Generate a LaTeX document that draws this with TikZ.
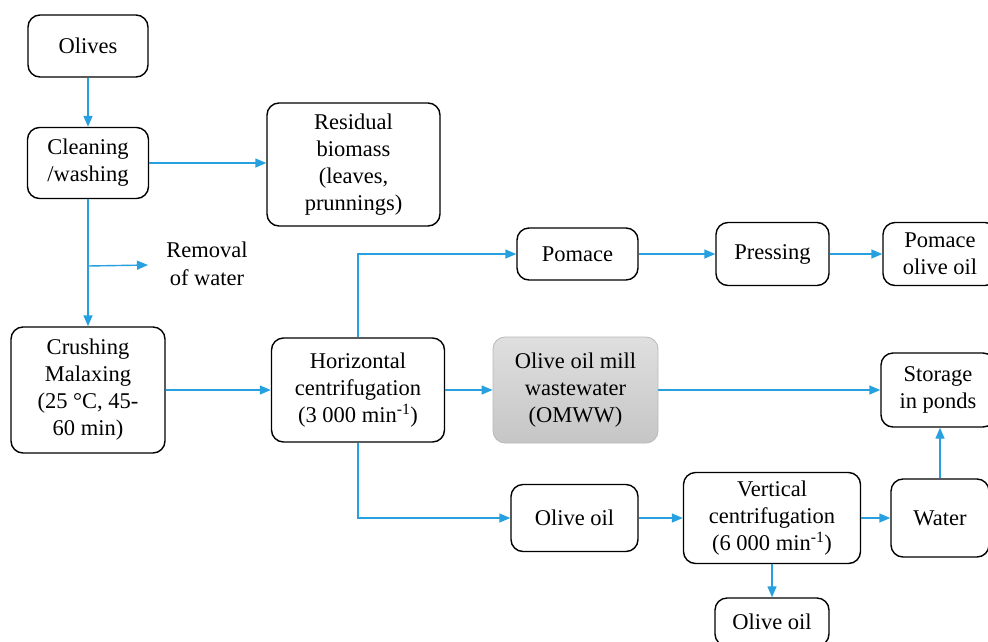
\documentclass[tikz,border=0pt]{standalone}
\usepackage{fontspec}
\setmainfont{Liberation Serif}
\usetikzlibrary{arrows.meta,calc}
\definecolor{arrblue}{RGB}{38,160,222}
\begin{document}
\begin{tikzpicture}[x=1pt,y=-1pt,
  box/.style={draw=black,line width=1.4pt,rounded corners=12pt,align=center,
    inner sep=2pt,font=\fontsize{22.5}{27}\selectfont},
  gbox/.style={box,draw=gray!55,line width=0.8pt,top color=gray!25,bottom color=gray!45},
  lbl/.style={align=center,font=\fontsize{22.5}{28}\selectfont},
  arr/.style={draw=arrblue,line width=1.4pt,-{Triangle[length=11pt,width=9pt]}}]
\useasboundingbox (0,0) rectangle (988,641);
\node[box,minimum width=120pt,minimum height=62pt] (olives) at (88,46) {Olives};
\node[box,minimum width=121pt,minimum height=71pt] (clean) at (88,163) {Cleaning\\/washing};
\node[box,minimum width=173pt,minimum height=123pt] (resid) at (353.5,164.5) {Residual\\biomass\\(leaves,\\prunnings)};
\node[lbl] (removal) at (207,264) {Removal\\of water};
\node[box,minimum width=154pt,minimum height=126pt] (crush) at (88,390) {Crushing\\Malaxing\\(25 °C, 45-\\60 min)};
\node[box,minimum width=173pt,minimum height=104pt] (horiz) at (358,390) {Horizontal\\centrifugation\\(3 000 min\textsuperscript{-1})};
\node[gbox,minimum width=165pt,minimum height=106pt] (omww) at (575.5,390) {Olive oil mill\\wastewater\\(OMWW)};
\node[box,minimum width=121pt,minimum height=52pt] (pomace) at (577.5,254) {Pomace};
\node[box,minimum width=113pt,minimum height=63pt] (press) at (772.5,254) {Pressing};
\node[box,minimum width=114pt,minimum height=63pt] (pomoil) at (940,254) {Pomace\\olive oil};
\node[box,minimum width=114pt,minimum height=74pt] (storage) at (938,390) {Storage\\in ponds};
\node[box,minimum width=127pt,minimum height=67pt] (oil1) at (574.5,518) {Olive oil};
\node[box,minimum width=177pt,minimum height=91pt] (vert) at (772,518) {Vertical\\centrifugation\\(6 000 min\textsuperscript{-1})};
\node[box,minimum width=98pt,minimum height=78pt] (water) at (940,518) {Water};
\node[box,minimum width=114pt,minimum height=48pt] (oil2) at (772,622) {Olive oil};
\coordinate (rb) at (88,266);
\coordinate (rw) at (148,265);
\draw[arr] (olives) -- (clean);
\draw[arr] (clean) -- (resid.west |- clean);
\draw[arr] (clean) -- (crush);
\draw[arr] (rb) -- (rw);
\draw[arr] (crush) -- (horiz);
\draw[arr] (horiz) -- (omww);
\draw[arr] (horiz.north) |- (pomace.west);
\draw[arr] (horiz.south) |- (oil1.west);
\draw[arr] (pomace) -- (press);
\draw[arr] (press) -- (pomoil);
\draw[arr] (omww) -- (storage);
\draw[arr] (oil1) -- (vert);
\draw[arr] (vert) -- (water.west |- vert);
\draw[arr] (water.north) -- (water.north |- storage.south);
\draw[arr] (vert) -- (oil2);
\end{tikzpicture}
\end{document}
